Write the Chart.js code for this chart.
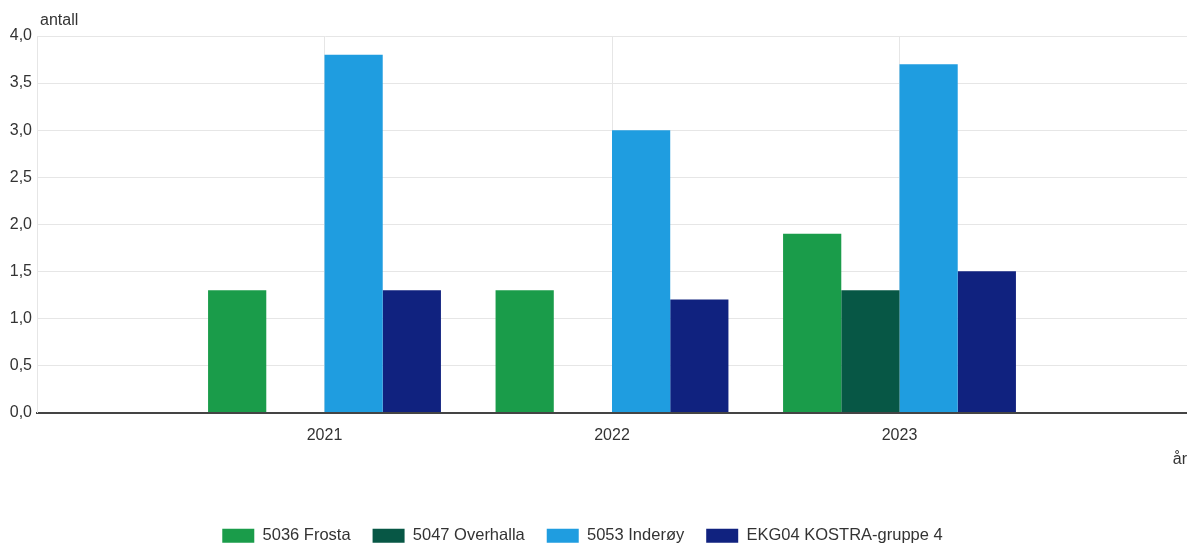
<!DOCTYPE html>
<html><head><meta charset="utf-8">
<script src="https://cdn.jsdelivr.net/npm/chart.js@4/dist/chart.umd.min.js"></script>
<style>html,body{margin:0;padding:0;background:#fff;overflow:hidden}#wrap{width:1187px;height:545px;position:relative}</style>
</head><body><div id="wrap"><canvas id="c" width="1187" height="545"></canvas></div>
<script>
const categories = ['', '2021', '2022', '2023', ''];
const frosta = [null, 1.3, 1.3, 1.9, null];
const overhalla = [null, null, null, 1.3, null];
const inderoy = [null, 3.8, 3.0, 3.7, null];
const ekg04 = [null, 1.3, 1.2, 1.5, null];
const seriesNames = ['5036 Frosta', '5047 Overhalla', '5053 Inderøy', 'EKG04 KOSTRA-gruppe 4'];
const seriesColors = ['#1a9c4a', '#075745', '#1f9de0', '#10227f'];
const yTitle = 'antall';
const xTitle = 'år';
const yMin = 0, yMax = 4, yStep = 0.5;

const FONT = "'Liberation Sans', Arial, sans-serif";
const TXT = '#333333';
const GRID = '#e6e6e6';

const yTitlePlugin = {
  id: 'yTitle',
  afterLayout(chart) {
    if (chart.legend) { chart.legend.left -= 11; chart.legend.right -= 11; }
  },
  afterDraw(chart) {
    const {ctx, chartArea} = chart;
    ctx.save();
    ctx.font = '16px ' + FONT;
    ctx.fillStyle = TXT;
    ctx.textAlign = 'left';
    ctx.textBaseline = 'middle';
    ctx.fillText(yTitle, chartArea.left + 3, chartArea.top - 15);
    ctx.restore();
  }
};

const seriesData = [frosta, overhalla, inderoy, ekg04];

new Chart(document.getElementById('c'), {
  type: 'bar',
  data: {
    labels: categories,
    datasets: seriesData.map((d, i) => ({
      label: seriesNames[i],
      data: d,
      backgroundColor: seriesColors[i],
      borderWidth: 0,
      categoryPercentage: 0.81,
      barPercentage: 1.0
    }))
  },
  options: {
    responsive: false,
    animation: false,
    devicePixelRatio: 1,
    layout: { padding: { top: 36, bottom: -9, left: 0, right: 0 } },
    plugins: {
      legend: {
        position: 'bottom',
        labels: {
          boxWidth: 32, boxHeight: 14, padding: 22,
          color: TXT, font: { family: FONT, size: 16.5 }
        }
      },
      tooltip: { enabled: false },
      title: { display: false }
    },
    scales: {
      x: {
        offset: false,
        grid: { color: GRID, drawTicks: true, tickLength: 13, tickColor: 'rgba(0,0,0,0)', lineWidth: 1, offset: false },
        border: { color: '#444444', width: 2 },
        ticks: { color: TXT, font: { family: FONT, size: 16 }, padding: 0, maxRotation: 0, autoSkip: false },
        title: { display: true, text: xTitle, align: 'end', color: TXT, font: { family: FONT, size: 16 }, padding: { top: 0, bottom: 36 } },
        afterFit(scale) { scale.height = 93; }
      },
      y: {
        min: yMin, max: yMax,
        grid: { color: GRID, drawTicks: false },
        border: { color: GRID },
        ticks: {
          stepSize: yStep, color: TXT, padding: 5,
          font: { family: FONT, size: 16 },
          callback: v => v.toFixed(1).replace('.', ',')
        },
        afterFit(scale) { scale.width = 37; }
      }
    }
  },
  plugins: [yTitlePlugin]
});
</script></body></html>
